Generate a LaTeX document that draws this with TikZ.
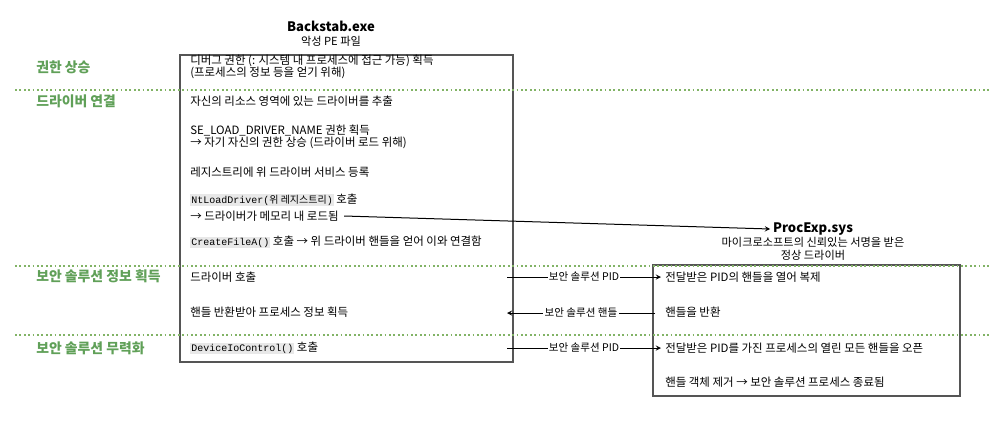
\documentclass[tikz,border=0pt]{standalone}
\usepackage{fontspec}
\usepackage{xcolor}
\usepackage{tikz}
\usetikzlibrary{arrows, positioning, calc}
\setmainfont{Noto Sans CJK KR}
\setmonofont{Liberation Mono}
\definecolor{phasegreen}{RGB}{96, 160, 88}
\definecolor{sepgreen}{RGB}{130, 179, 102}
\definecolor{boxgray}{RGB}{85, 85, 85}
\definecolor{codebg}{RGB}{232, 232, 232}
\newcommand{\apicall}[1]{{\setlength{\fboxsep}{0.8pt}\colorbox{codebg}{\ttfamily\fontsize{7.5}{9}\selectfont #1}}}

\begin{document}
\begin{tikzpicture}[
    x=0.75pt, y=-0.75pt,
    >=stealth,
    every node/.style={inner sep=0pt, font=\fontsize{8.6}{9.3}\selectfont},
    steptext/.style={anchor=west, align=left},
    phase/.style={anchor=west, text=phasegreen, font=\fontsize{10.4}{12}\selectfont\bfseries},
    sep/.style={draw=sepgreen, line width=1.3pt, dotted},
    boxline/.style={draw=boxgray, line width=1.1pt},
    title/.style={font=\fontsize{9.8}{11}\selectfont\bfseries},
    subtitle/.style={font=\fontsize{8.4}{9.3}\selectfont, align=center},
    msg/.style={thick, ->, line width=0.75pt},
    msglabel/.style={fill=white, inner sep=1pt, font=\fontsize{7.9}{8}\selectfont}
]
    \useasboundingbox (0,0) rectangle (997,422);

    % titles
    \node[title] (bstab) at (331,26) {Backstab.exe};
    \node[subtitle] (bstabsub) at (331,41) {악성 PE 파일};
    \node[title] (procexp) at (813,229) {ProcExp.sys};
    \node[subtitle] (procexpsub) at (813,249) {마이크로소프트의 신뢰있는 서명을 받은\\정상 드라이버};

    % boxes
    \draw[boxline] (180,55) rectangle (513,362);
    \draw[boxline] (653,265) rectangle (960,396);

    % phase separators
    \draw[sep] (15,90) -- (990,90);
    \draw[sep] (15,266) -- (990,266);
    \draw[sep] (15,335) -- (990,335);

    % phases
    \node[phase] (escalate) at (36,67) {권한 상승};
    \node[phase] (attach) at (36,101) {드라이버 연결};
    \node[phase] (gather) at (36,276) {보안 솔루션 정보 획득};
    \node[phase] (disable) at (36,348) {보안 솔루션 무력화};

    % Backstab.exe steps
    \node[steptext] (debugpriv) at (190,67) {디버그 권한 (: 시스템 내 프로세스에 접근 가능) 획득\\(프로세스의 정보 등을 얻기 위해)};
    \node[steptext] (extract) at (190,101) {자신의 리소스 영역에 있는 드라이버를 추출};
    \node[steptext] (loadpriv) at (190,137) {SE\_LOAD\_DRIVER\_NAME 권한 획득\\→ 자기 자신의 권한 상승 (드라이버 로드 위해)};
    \node[steptext] (regsvc) at (190,172) {레지스트리에 위 드라이버 서비스 등록};
    \node[steptext] (ntload) at (190,200) {\apicall{NtLoadDriver(\textrm{위 레지스트리})} 호출};
    \node[steptext] (loaded) at (190,216) {→ 드라이버가 메모리 내 로드됨};
    \node[steptext] (openhandle) at (190,242) {\apicall{CreateFileA()} 호출 → 위 드라이버 핸들을 얻어 이와 연결함};
    \node[steptext] (drvcall) at (190,277) {드라이버 호출};
    \node[steptext] (gotinfo) at (190,312) {핸들 반환받아 프로세스 정보 획득};
    \node[steptext] (ioctl) at (190,348) {\apicall{DeviceIoControl()} 호출};

    % ProcExp.sys steps
    \node[steptext] (duphandle) at (665,277) {전달받은 PID의 핸들을 열어 복제};
    \node[steptext] (rethandle) at (665,312) {핸들을 반환};
    \node[steptext] (openall) at (665,348) {전달받은 PID를 가진 프로세스의 열린 모든 핸들을 오픈};
    \node[steptext] (killproc) at (665,382) {핸들 객체 제거 → 보안 솔루션 프로세스 종료됨};

    \coordinate (pidout) at (507,277);
    \coordinate (pidin) at (661,277);
    \coordinate (hout) at (655,313);
    \coordinate (hin) at (507,313);
    \coordinate (kpidout) at (507,348);
    \coordinate (kpidin) at (661,348);

    \draw[msg] ([xshift=4pt]loaded.east) -- ([xshift=-2pt]procexp.west);
    \draw[msg] (pidout) -- node[msglabel] {보안 솔루션 PID} (pidin);
    \draw[msg] (hout) -- node[msglabel] {보안 솔루션 핸들} (hin);
    \draw[msg] (kpidout) -- node[msglabel] {보안 솔루션 PID} (kpidin);
\end{tikzpicture}
\end{document}
